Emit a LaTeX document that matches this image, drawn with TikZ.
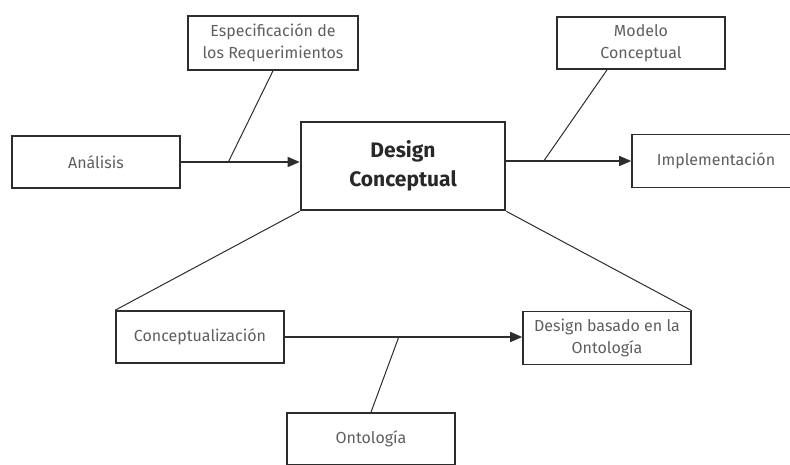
\documentclass[tikz,border=0pt]{standalone}
\usepackage{fontspec}
\setmainfont{Fira Sans}
\usepackage{tikz}
\usetikzlibrary{arrows.meta,calc}
\definecolor{boxline}{RGB}{45,45,45}
\definecolor{labelink}{RGB}{95,95,95}
\definecolor{titleink}{RGB}{40,40,40}

\begin{document}
\begin{tikzpicture}[x=1pt,y=-1pt,
    stagebox/.style={draw=boxline, line width=1.6pt, fill=white, minimum width=168pt, minimum height=52pt,
        align=center, inner sep=2pt, text=labelink, font=\fontsize{16}{22}\selectfont},
    mainbox/.style={stagebox, line width=2.6pt, minimum width=204pt, minimum height=88pt,
        text=titleink, font=\fontsize{21}{29}\selectfont\bfseries},
    flow/.style={draw=boxline, line width=1.4pt, -{Triangle[length=12pt,width=10pt]}},
    feed/.style={draw=boxline, line width=1pt}]
    \useasboundingbox (0,0) rectangle (790,464);
    \clip (0,0) rectangle (790,464);

    % Central stage
    \node[mainbox] (design) at (403,166) {Design\\Conceptual};

    % Surrounding stages
    \node[stagebox] (analisis) at (96,162) {Análisis};
    \node[stagebox, minimum width=170pt, minimum height=54pt] (espec) at (273,43) {Especificación de\\los Requerimientos};
    \node[stagebox] (modelo) at (641,43) {Modelo\\Conceptual};
    \node[stagebox, minimum height=53pt] (impl) at (716,161) {Implementación};
    \node[stagebox] (concep) at (200,337) {Conceptualización};
    \node[stagebox, minimum height=53pt] (basado) at (607,338) {Design basado en la\\Ontología};
    \node[stagebox] (onto) at (371,439) {Ontología};

    % Main flow arrows
    \draw[flow] (analisis.east) -- (analisis.east -| design.west);
    \draw[flow] (impl.west -| design.east) -- (impl.west);
    \draw[flow] (concep.east) -- (concep.east -| basado.west);

    % Inputs joining the arrows
    \coordinate (j1) at ($(analisis.east)!0.4!(analisis.east -| design.west)$);
    \coordinate (j2) at ($(impl.west -| design.east)!0.3!(impl.west)$);
    \coordinate (j3) at ($(concep.east)!0.48!(concep.east -| basado.west)$);
    \draw[feed] (espec.south) -- (j1);
    \draw[feed] ($(modelo.south west)!0.3!(modelo.south east)$) -- (j2);
    \draw[feed] (onto.north) -- (j3);

    % Lower refinement
    \draw[feed] (design.south west) -- (concep.north west);
    \draw[feed] (design.south east) -- (basado.north east);
\end{tikzpicture}
\end{document}
